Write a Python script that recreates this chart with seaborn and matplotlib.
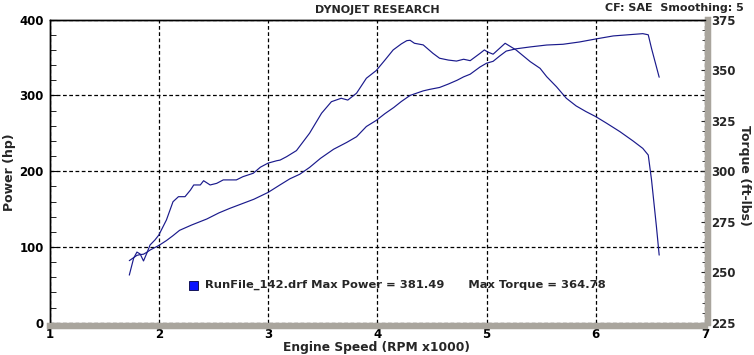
import matplotlib
matplotlib.use("Agg")
import matplotlib.pyplot as plt
import matplotlib.patches as mpatches
from matplotlib.ticker import MultipleLocator
import numpy as np
import pandas as pd
import seaborn as sns


# power curve (rpm x1000, hp)
power_rpm = [1.73, 1.77, 1.80, 1.83, 1.86, 1.89, 1.92, 1.96, 2.00, 2.07, 2.13, 2.19,
             2.30, 2.44, 2.55, 2.65, 2.76, 2.87, 3.00, 3.11, 3.20, 3.29, 3.38, 3.48,
             3.60, 3.72, 3.81, 3.90, 3.99, 4.07, 4.15, 4.22, 4.30, 4.36, 4.42, 4.48,
             4.57, 4.65, 4.73, 4.79, 4.85, 4.94, 5.00, 5.06, 5.12, 5.18, 5.27, 5.40,
             5.55, 5.70, 5.85, 6.00, 6.16, 6.34, 6.43, 6.48, 6.51, 6.58]
power_hp = [82, 86, 89, 90, 90.5, 93, 96, 99, 102, 108.5, 115, 122,
            129, 137, 145, 151, 157, 163, 172, 182, 190, 196, 205, 217,
            229, 238, 245.5, 259, 267, 276, 284, 292, 300, 303, 306, 308,
            310.5, 315, 320, 324.5, 328, 337.5, 342.5, 345, 352, 358.5, 361.5, 364,
            366.5, 367.5, 370.5, 374.5, 378.5, 380.5, 381.5, 380, 362, 324]

# torque curve (rpm x1000, ft-lbs)
torque_rpm = [1.73, 1.77, 1.80, 1.83, 1.86, 1.89, 1.92, 1.965, 2.00, 2.07, 2.13, 2.18,
              2.24, 2.29, 2.32, 2.38, 2.41, 2.47, 2.53, 2.59, 2.71, 2.77, 2.865, 2.93,
              3.00, 3.08, 3.11, 3.17, 3.26, 3.38, 3.49, 3.58, 3.67, 3.73, 3.81, 3.90,
              3.99, 4.07, 4.145, 4.22, 4.27, 4.30, 4.34, 4.42, 4.51, 4.57, 4.65, 4.725,
              4.79, 4.85, 4.94, 4.98, 5.01, 5.06, 5.17, 5.27, 5.40, 5.49, 5.55, 5.64,
              5.73, 5.82, 5.91, 6.00, 6.10, 6.22, 6.34, 6.43, 6.48, 6.51, 6.555, 6.58]
torque_ftlb = [248.6, 257, 260, 259, 255.6, 259.4, 263.5, 266, 268.4, 275.9, 284.9, 287.4,
               287.4, 290.7, 293.2, 293.2, 295.3, 293.2, 294, 295.7, 295.7, 297.3, 299, 302,
               304, 305.2, 305.5, 307.2, 310.2, 318.8, 328.7, 334.4, 336.1, 335.2, 338.6, 346,
               349.8, 355, 360, 363, 364.6, 364.78, 363.3, 362.5, 358.3, 355.9, 355, 354.5,
               355.4, 354.7, 358.3, 360, 359, 357.9, 363.3, 360, 354.2, 350.9, 346.8, 341.8,
               336.1, 332.3, 329.5, 327, 323.7, 319.6, 315, 311.3, 308, 295.7, 272.5, 258.5]

run_name = "RunFile_142.drf"
max_power = 381.49
max_torque = 364.78

LINE = "#1a1a8c"
SHADOW = "#a9a59d"
FONT = ["DejaVu Sans"]

sns.set_style("white")
plt.rcParams["font.family"] = FONT
plt.rcParams["font.weight"] = "bold"

power = pd.DataFrame({"rpm": power_rpm, "hp": power_hp})
torque = pd.DataFrame({"rpm": torque_rpm, "tq": torque_ftlb})

fig = plt.figure(figsize=(7.54, 3.55), dpi=100)
ax = fig.add_axes([0.0657, 0.0907, 0.8694, 0.854])
ax2 = ax.twinx()

sns.lineplot(data=power, x="rpm", y="hp", ax=ax, color=LINE, linewidth=0.85,
             estimator=None, sort=False)
sns.lineplot(data=torque, x="rpm", y="tq", ax=ax2, color=LINE, linewidth=0.85,
             estimator=None, sort=False)

ax.set_xlim(1, 7)
ax.set_ylim(0, 400)
ax2.set_ylim(225, 375)

ax.xaxis.set_major_locator(MultipleLocator(1))
ax.xaxis.set_minor_locator(MultipleLocator(0.2))
ax.yaxis.set_major_locator(MultipleLocator(100))
ax.yaxis.set_minor_locator(MultipleLocator(20))
ax2.yaxis.set_major_locator(MultipleLocator(25))
ax2.yaxis.set_minor_locator(MultipleLocator(5))

ax.grid(True, which="major", color="black", linestyle=(0, (3, 2)), linewidth=0.9)
ax.set_axisbelow(True)

ax.tick_params(axis="both", which="both", direction="in", labelsize=8.5, colors="black")
ax.tick_params(axis="x", which="major", length=5, pad=1.5)
ax.tick_params(axis="x", which="minor", length=4)
ax.tick_params(axis="y", which="major", length=5, pad=4)
ax.tick_params(axis="y", which="minor", length=4)
ax2.tick_params(axis="y", which="both", direction="in", labelsize=8.5, pad=2)
ax2.tick_params(axis="y", which="major", length=5)
ax2.tick_params(axis="y", which="minor", length=4)
for lab in ax.get_xticklabels() + ax.get_yticklabels() + ax2.get_yticklabels():
    lab.set_fontweight("bold")

for a in (ax, ax2):
    a.spines["top"].set_color("black")
    a.spines["top"].set_linewidth(1.0)
    a.spines["left"].set_color("black")
    a.spines["left"].set_linewidth(1.0)
    a.spines["bottom"].set_color(SHADOW)
    a.spines["bottom"].set_linewidth(4.5)
    a.spines["right"].set_color(SHADOW)
    a.spines["right"].set_linewidth(4.5)
    a.spines["bottom"].set_position(("outward", 2.2))
    a.spines["right"].set_position(("outward", 2.2))

ax.set_xlabel("")
ax.set_ylabel("")
ax2.set_ylabel("")
fig.text(0.4987, 0.021, "Engine Speed (RPM x1000)", ha="center", va="center",
         fontsize=8.8, fontweight="bold")
fig.text(0.013, 0.515, "Power (hp)", ha="center", va="center", rotation=90,
         fontsize=9, fontweight="bold")
fig.text(0.987, 0.505, "Torque (ft-lbs)", ha="center", va="center", rotation=270,
         fontsize=9, fontweight="bold")

fig.text(0.5, 0.972, "DYNOJET RESEARCH", ha="center", va="center",
         fontsize=8, fontweight="bold")
fig.text(0.987, 0.978, "CF: SAE  Smoothing: 5", ha="right", va="center",
         fontsize=8, fontweight="bold")

# legend entry drawn as in the dyno software
ax.add_patch(mpatches.Rectangle((0.2135, 0.108), 0.0137, 0.031, transform=ax.transAxes,
                                facecolor="#0a14ff", edgecolor="#000040", linewidth=0.6,
                                clip_on=False, zorder=5))
ax.text(0.2375, 0.124,
        f"{run_name} Max Power = {max_power:.2f}      Max Torque = {max_torque:.2f}",
        transform=ax.transAxes, ha="left", va="center", fontsize=8.25, fontweight="bold",
        zorder=5)

fig.savefig("out.png", dpi=100, facecolor="white")
